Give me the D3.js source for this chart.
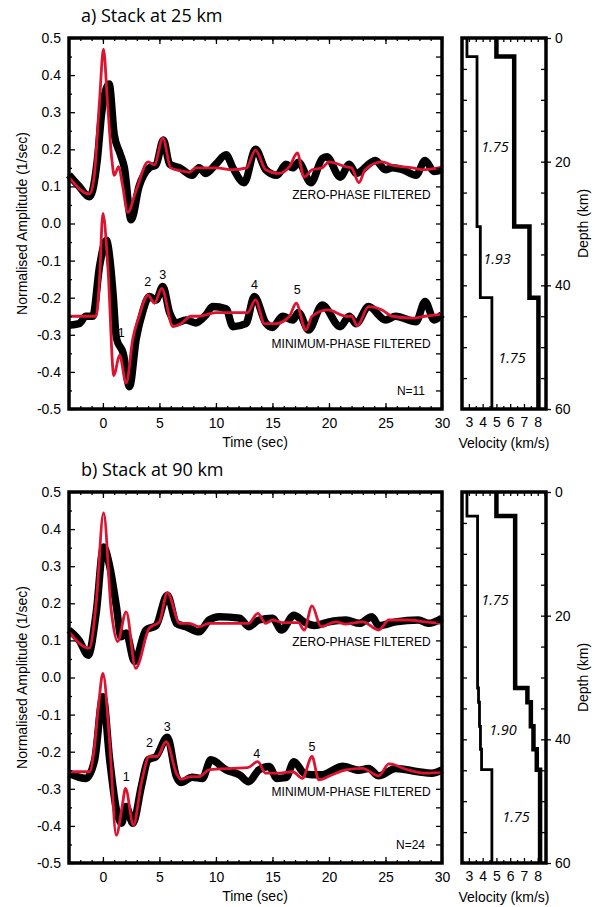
<!DOCTYPE html>
<html>
<head>
<meta charset="utf-8">
<script src="https://cdn.jsdelivr.net/npm/d3@7"></script>
<style>
  body { margin: 0; background: #fff; }
  svg text { font-family: "Liberation Sans", Arial, sans-serif; fill: #000; }
</style>
</head>
<body>
<svg id="chart" width="595" height="907"></svg>
<script>
// ---- data ----
var ampTicks = [-0.5, -0.4, -0.3, -0.2, -0.1, 0.0, 0.1, 0.2, 0.3, 0.4, 0.5];
var timeTicks = [0, 5, 10, 15, 20, 25, 30];
var velTicks = [3, 4, 5, 6, 7, 8];
var depthTicks = [0, 20, 40, 60];

// panel a: stack at 25 km  [time (s), amplitude]
var zeroBlackA = [[-3,0.131],[-2.1,0.10],[-1.2,0.072],[-0.9,0.09],[-0.5,0.17],[-0.1,0.30],[0.55,0.376],[1.0,0.24],[1.5,0.19],[1.9,0.15],[2.5,0.01],[3.2,0.10],[4.1,0.15],[4.7,0.158],[5.35,0.225],[5.9,0.16],[6.8,0.15],[7.9,0.13],[8.5,0.15],[9.1,0.135],[10,0.16],[10.9,0.185],[11.5,0.15],[12.5,0.11],[13.5,0.20],[14.4,0.145],[15.4,0.13],[16.2,0.16],[16.8,0.15],[17.3,0.165],[18.4,0.11],[19.4,0.175],[19.8,0.18],[21.0,0.125],[21.8,0.16],[22.4,0.135],[24.1,0.17],[25,0.145],[25.6,0.15],[26.5,0.145],[27.7,0.13],[28.5,0.17],[29.3,0.14],[30,0.145]];
var zeroRedA = [[-3,0.125],[-1.2,0.08],[-0.8,0.12],[-0.3,0.33],[0.05,0.47],[0.4,0.33],[0.8,0.17],[1.0,0.13],[1.4,0.153],[1.7,0.11],[2.2,0.03],[2.95,0.09],[4.0,0.166],[4.55,0.158],[5.3,0.23],[6.0,0.15],[6.9,0.142],[7.65,0.138],[8.2,0.15],[10,0.15],[11.5,0.145],[12.7,0.15],[13.5,0.198],[14.4,0.145],[15.6,0.135],[16.5,0.153],[17.2,0.19],[17.8,0.125],[18.5,0.145],[19.4,0.15],[20,0.166],[21.5,0.153],[22,0.15],[22.65,0.11],[23.2,0.145],[24.7,0.166],[25.6,0.157],[27.4,0.15],[28.2,0.145],[30,0.152]];
var minBlackA = [[-3,-0.274],[-2.1,-0.27],[-1.5,-0.25],[-0.9,-0.25],[-0.3,-0.116],[0.3,-0.045],[0.7,-0.12],[0.9,-0.19],[1.2,-0.31],[1.8,-0.35],[2.35,-0.44],[2.95,-0.31],[3.5,-0.24],[4.1,-0.197],[4.7,-0.206],[5.3,-0.17],[5.9,-0.24],[6.5,-0.268],[7.35,-0.26],[8.2,-0.268],[9.1,-0.247],[9.7,-0.224],[10.9,-0.23],[11.5,-0.278],[12.65,-0.27],[13.4,-0.197],[14.4,-0.268],[15,-0.28],[15.9,-0.25],[16.8,-0.26],[17.3,-0.24],[18.2,-0.287],[19.4,-0.22],[21,-0.278],[21.8,-0.25],[22.4,-0.27],[23.5,-0.224],[25,-0.26],[25.9,-0.25],[27.7,-0.265],[28.5,-0.21],[29.3,-0.26],[30,-0.245]];
var minRedA = [[-3,-0.25],[-0.6,-0.25],[-0.3,-0.15],[0,0.027],[0.44,-0.116],[0.97,-0.41],[1.47,-0.355],[2.06,-0.43],[2.65,-0.31],[3.2,-0.25],[4.0,-0.193],[4.56,-0.215],[5.2,-0.175],[6.2,-0.278],[6.9,-0.27],[7.8,-0.25],[8.5,-0.25],[10,-0.24],[11.5,-0.24],[12.8,-0.24],[13.5,-0.206],[14.3,-0.27],[15.3,-0.27],[16.5,-0.25],[17.1,-0.215],[17.95,-0.287],[18.5,-0.25],[19.9,-0.233],[21.5,-0.25],[22,-0.25],[22.5,-0.276],[23.5,-0.224],[24.7,-0.233],[25.6,-0.25],[27.4,-0.255],[28.5,-0.25],[30,-0.245]];

// panel b: stack at 90 km
var zeroBlackB = [[-3,0.128],[-2.1,0.10],[-1.3,0.06],[-0.6,0.173],[0.06,0.352],[0.6,0.30],[1.2,0.19],[1.6,0.11],[2.06,0.12],[2.8,0.043],[3.8,0.128],[4.7,0.14],[5.7,0.222],[6.5,0.146],[7.35,0.137],[8.5,0.123],[9.4,0.155],[10.3,0.164],[12.1,0.16],[12.9,0.137],[13.8,0.155],[15,0.16],[15.8,0.128],[16.9,0.168],[17.8,0.15],[18.7,0.14],[20,0.15],[21.5,0.155],[22.7,0.146],[23.8,0.164],[24.4,0.14],[25.9,0.15],[27.9,0.155],[28.8,0.146],[30,0.16]];
var zeroRedB = [[-3,0.123],[-1.2,0.079],[-0.6,0.2],[0.06,0.444],[0.74,0.18],[1.3,0.097],[2.06,0.177],[2.9,0.025],[4.1,0.133],[5,0.15],[5.7,0.229],[6.8,0.146],[7.65,0.146],[8.5,0.137],[9.4,0.146],[12.9,0.146],[13.7,0.173],[14.4,0.146],[15,0.155],[15.9,0.148],[17.3,0.148],[17.8,0.128],[18.5,0.193],[19.3,0.137],[20.6,0.15],[21.5,0.144],[23,0.15],[24.4,0.128],[25.3,0.155],[27,0.155],[28.5,0.15],[30,0.146]];
var minBlackB = [[-3,-0.258],[-1.5,-0.272],[-0.73,-0.222],[0,-0.052],[0.6,-0.222],[1.2,-0.357],[1.65,-0.393],[2.06,-0.348],[2.65,-0.393],[3.4,-0.294],[4.0,-0.222],[4.7,-0.213],[5.7,-0.161],[6.5,-0.267],[6.9,-0.283],[7.9,-0.269],[8.8,-0.272],[9.55,-0.222],[10.9,-0.249],[12.1,-0.263],[12.9,-0.281],[13.8,-0.249],[14.7,-0.24],[15.4,-0.272],[16.2,-0.27],[16.9,-0.227],[17.8,-0.258],[18.5,-0.262],[19.4,-0.262],[21.2,-0.239],[22.65,-0.25],[23.5,-0.245],[24.4,-0.265],[25.9,-0.245],[27.9,-0.254],[29.1,-0.258],[30,-0.249]];
var minRedB = [[-3,-0.254],[-1.2,-0.254],[-0.8,-0.2],[-0.4,-0.08],[0,0.011],[0.6,-0.177],[1.18,-0.425],[1.7,-0.348],[2.0,-0.299],[2.7,-0.398],[3.4,-0.285],[4.1,-0.213],[4.8,-0.213],[5.6,-0.173],[6.5,-0.258],[6.9,-0.274],[7.8,-0.267],[8.5,-0.267],[9.4,-0.249],[11.5,-0.245],[12.8,-0.243],[13.7,-0.227],[14.4,-0.258],[15.6,-0.258],[16.8,-0.254],[17.65,-0.272],[18.5,-0.213],[19.1,-0.276],[20.3,-0.262],[21.5,-0.249],[22.95,-0.245],[24.4,-0.265],[25.3,-0.233],[27,-0.249],[28.5,-0.258],[30,-0.255]];

// phase labels [label, time, amplitude]
var phasesA = [["1",1.62,-0.296],["2",3.97,-0.157],["3",5.3,-0.139],["4",13.4,-0.166],["5",17.2,-0.179]];
var phasesB = [["1",2.06,-0.269],["2",4.12,-0.176],["3",5.68,-0.133],["4",13.6,-0.207],["5",18.5,-0.188]];

// velocity models: layer boundaries (km) and velocities (km/s)
var depthsA = [0, 3, 30.5, 42, 60];
var vsA = [2.86, 3.59, 3.83, 4.67];
var vpA = [5.0, 6.29, 7.4, 8.05];
var depthsB = [0, 3.9, 31.7, 34, 37.9, 41.6, 44.9, 60];
var vsB = [2.86, 3.63, 3.7, 3.77, 3.84, 3.92, 4.67];
var vpB = [5.0, 6.36, 7.25, 7.5, 7.69, 7.93, 8.17];
// Vp/Vs labels [text, velocity, depth]
var ratiosA = [["1.75",4.9,17.6],["1.93",5.04,35.6],["1.75",6.13,51.6]];
var ratiosB = [["1.75",4.9,17.4],["1.90",5.48,38.4],["1.75",6.42,52.4]];

var red = "#dc1432";
var svg = d3.select("#chart");

function styleAxis(g) {
  g.select(".domain").remove();
  g.attr("font-family", null).attr("font-size", 14);
  g.selectAll(".tick line").attr("stroke", "#000").attr("stroke-width", 1.3);
  return g;
}

function drawPanel(p) {
  var x = d3.scaleLinear().domain([-3, 30]).range([69, 442]);
  var y = d3.scaleLinear().domain([-0.5, 0.5]).range([p.bottom, p.top]);
  var g = svg.append("g");

  // title
  g.append("text")
    .attr("x", 81).attr("y", p.top - 16)
    .style("font-family", "'Open Sans'").attr("font-size", 18)
    .text(p.title);

  var line = d3.line()
    .x(function(d) { return x(d[0]); })
    .y(function(d) { return y(d[1]); })
    .curve(d3.curveMonotoneX);

  [p.zeroBlack, p.minBlack].forEach(function(s) {
    g.append("path").datum(s).attr("d", line)
      .attr("fill", "none").attr("stroke", "#000").attr("stroke-width", 7.5)
      .attr("stroke-linejoin", "round");
  });
  [p.zeroRed, p.minRed].forEach(function(s) {
    g.append("path").datum(s).attr("d", line)
      .attr("fill", "none").attr("stroke", red).attr("stroke-width", 2.8)
      .attr("stroke-linejoin", "round");
  });

  // axes
  var h = p.bottom - p.top;
  styleAxis(g.append("g").attr("transform", "translate(69,0)")
    .call(d3.axisLeft(y).tickValues(ampTicks).tickSizeInner(-6).tickSizeOuter(0).tickPadding(8)
      .tickFormat(function(d) { return d.toFixed(1); })));
  styleAxis(g.append("g").attr("transform", "translate(69,0)")
    .call(d3.axisLeft(y).tickValues(d3.range(-0.45, 0.5, 0.1)).tickSizeInner(-3).tickSizeOuter(0).tickFormat("")));
  styleAxis(g.append("g").attr("transform", "translate(442,0)")
    .call(d3.axisRight(y).tickValues(d3.range(-0.45, 0.5, 0.05)).tickSizeInner(-6).tickSizeOuter(0).tickFormat("")));
  styleAxis(g.append("g").attr("transform", "translate(0," + p.bottom + ")")
    .call(d3.axisBottom(x).tickValues(timeTicks).tickSizeInner(-6).tickSizeOuter(0).tickPadding(9)
      .tickFormat(d3.format("d"))));
  styleAxis(g.append("g").attr("transform", "translate(0," + p.bottom + ")")
    .call(d3.axisBottom(x).tickValues(d3.range(-2, 30, 1)).tickSizeInner(-3).tickSizeOuter(0).tickFormat("")));
  styleAxis(g.append("g").attr("transform", "translate(0," + p.top + ")")
    .call(d3.axisTop(x).tickValues(timeTicks).tickSizeInner(-6).tickSizeOuter(0).tickFormat("")));
  styleAxis(g.append("g").attr("transform", "translate(0," + p.top + ")")
    .call(d3.axisTop(x).tickValues(d3.range(-2, 30, 1)).tickSizeInner(-3).tickSizeOuter(0).tickFormat("")));

  g.append("rect").attr("x", 69).attr("y", p.top).attr("width", 442 - 69).attr("height", h)
    .attr("fill", "none").attr("stroke", "#000").attr("stroke-width", 3.5);

  g.append("text")
    .attr("transform", "translate(22," + (p.top + h / 2) + ") rotate(-90)")
    .attr("text-anchor", "middle").attr("dominant-baseline", "central")
    .attr("font-size", 14).text("Normalised Amplitude (1/sec)");
  g.append("text")
    .attr("x", 255).attr("y", p.bottom + 38).attr("text-anchor", "middle")
    .attr("font-size", 14).text("Time (sec)");

  // annotations
  var ann = g.append("g").style("font-family", "'Open Sans'").attr("font-size", 12);
  ann.append("text").attr("x", x(29)).attr("y", y(p.zeroLab))
    .attr("text-anchor", "end").attr("dominant-baseline", "central").text("ZERO-PHASE FILTERED");
  ann.append("text").attr("x", x(29)).attr("y", y(p.minLab))
    .attr("text-anchor", "end").attr("dominant-baseline", "central").text("MINIMUM-PHASE FILTERED");
  ann.append("text").attr("x", x(28.5)).attr("y", y(-0.451))
    .attr("text-anchor", "end").attr("dominant-baseline", "central").text(p.n);
  ann.selectAll(".ph").data(p.phases).enter().append("text")
    .attr("x", function(d) { return x(d[1]); })
    .attr("y", function(d) { return y(d[2]); })
    .attr("text-anchor", "middle").attr("dominant-baseline", "central")
    .attr("font-size", 12.5)
    .text(function(d) { return d[0]; });

  // velocity model
  var vx = d3.scaleLinear().domain([2.5, 8.6]).range([462, 546]);
  var vy = d3.scaleLinear().domain([0, 60]).range([p.top, p.bottom]);
  var vline = d3.line()
    .x(function(d) { return vx(d[0]); })
    .y(function(d) { return vy(d[1]); });
  function steps(depths, vel) {
    var pts = [];
    vel.forEach(function(v, i) { pts.push([v, depths[i]], [v, depths[i + 1]]); });
    return pts;
  }
  var vg = svg.append("g");
  vg.append("path").datum(steps(p.depths, p.vs)).attr("d", vline)
    .attr("fill", "none").attr("stroke", "#000").attr("stroke-width", 2.8);
  vg.append("path").datum(steps(p.depths, p.vp)).attr("d", vline)
    .attr("fill", "none").attr("stroke", "#000").attr("stroke-width", 4.5);

  styleAxis(vg.append("g").attr("transform", "translate(0," + p.bottom + ")")
    .call(d3.axisBottom(vx).tickValues(velTicks).tickSizeInner(-5).tickSizeOuter(0).tickPadding(8)
      .tickFormat(d3.format("d"))));
  styleAxis(vg.append("g").attr("transform", "translate(0," + p.bottom + ")")
    .call(d3.axisBottom(vx).tickValues(d3.range(3.5, 8.5, 1)).tickSizeInner(-3).tickSizeOuter(0).tickFormat("")));
  styleAxis(vg.append("g").attr("transform", "translate(0," + p.top + ")")
    .call(d3.axisTop(vx).tickValues(d3.range(3, 8.6, 0.5)).tickSizeInner(-4).tickSizeOuter(0).tickFormat("")));
  styleAxis(vg.append("g").attr("transform", "translate(462,0)")
    .call(d3.axisLeft(vy).tickValues(d3.range(5, 60, 5)).tickSizeInner(-5).tickSizeOuter(0).tickFormat("")));
  styleAxis(vg.append("g").attr("transform", "translate(546,0)")
    .call(d3.axisRight(vy).tickValues(d3.range(5, 60, 5)).tickSizeInner(-5).tickSizeOuter(0).tickFormat("")));
  styleAxis(vg.append("g").attr("transform", "translate(546,0)")
    .call(d3.axisRight(vy).tickValues(depthTicks).tickSizeInner(5).tickSizeOuter(0).tickPadding(4)
      .tickFormat(d3.format("d"))));

  vg.append("rect").attr("x", 462).attr("y", p.top).attr("width", 546 - 462).attr("height", h)
    .attr("fill", "none").attr("stroke", "#000").attr("stroke-width", 3.5);

  vg.selectAll(".ratio").data(p.ratios).enter().append("text")
    .attr("x", function(d) { return vx(d[1]); })
    .attr("y", function(d) { return vy(d[2]); })
    .attr("text-anchor", "middle").attr("dominant-baseline", "central")
    .style("font-family", "'Open Sans'").style("font-style", "italic")
    .attr("font-size", 14.5)
    .text(function(d) { return d[0]; });

  vg.append("text")
    .attr("transform", "translate(583," + (p.top + h / 2) + ") rotate(-90)")
    .attr("text-anchor", "middle").attr("dominant-baseline", "central")
    .attr("font-size", 14).text("Depth (km)");
  vg.append("text")
    .attr("x", 504).attr("y", p.bottom + 39).attr("text-anchor", "middle")
    .attr("font-size", 14).text("Velocity (km/s)");
}

drawPanel({
  title: "a) Stack at 25 km", top: 38, bottom: 409, n: "N=11",
  zeroBlack: zeroBlackA, zeroRed: zeroRedA, minBlack: minBlackA, minRed: minRedA,
  phases: phasesA, zeroLab: 0.077, minLab: -0.325,
  depths: depthsA, vs: vsA, vp: vpA, ratios: ratiosA
});
drawPanel({
  title: "b) Stack at 90 km", top: 492, bottom: 863, n: "N=24",
  zeroBlack: zeroBlackB, zeroRed: zeroRedB, minBlack: minBlackB, minRed: minRedB,
  phases: phasesB, zeroLab: 0.096, minLab: -0.308,
  depths: depthsB, vs: vsB, vp: vpB, ratios: ratiosB
});
</script>
</body>
</html>
